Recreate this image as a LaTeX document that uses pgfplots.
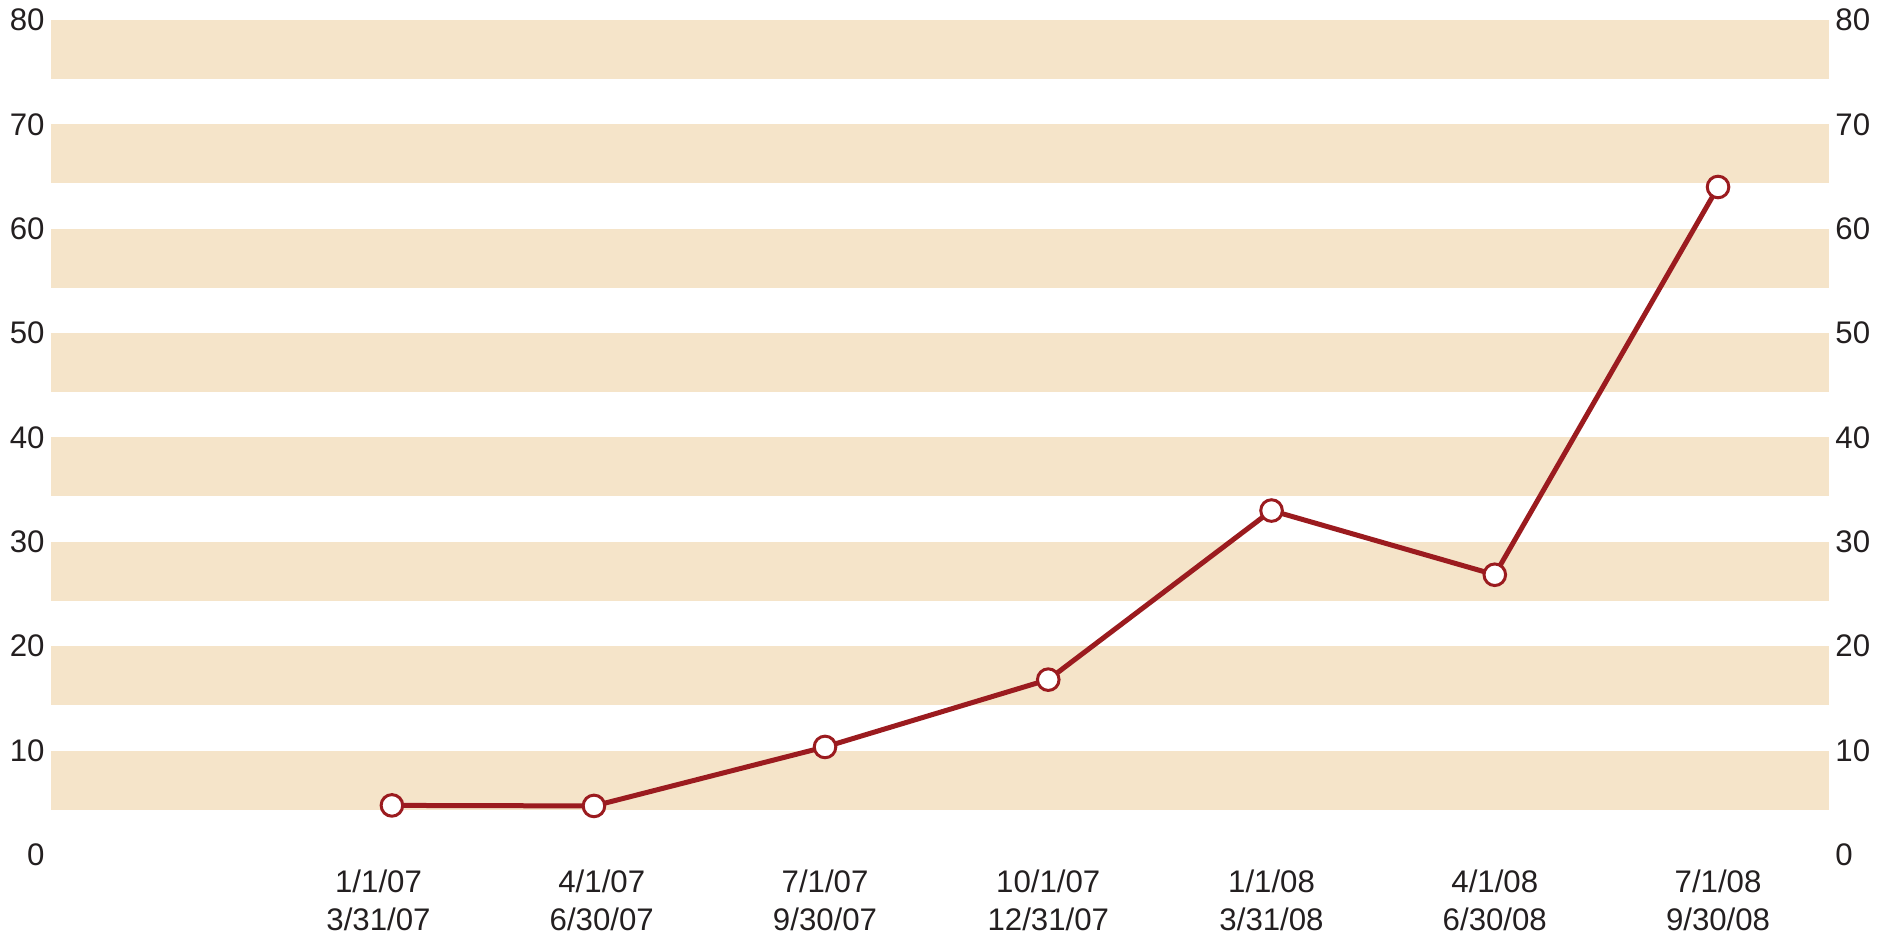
\documentclass[border=0pt]{standalone}
\usepackage{pgfplots}
\pgfplotsset{compat=1.18}
\usetikzlibrary{calc}
\usepackage{fontspec}
\setmainfont{Liberation Sans}
\definecolor{band}{RGB}{245,228,201}
\definecolor{linered}{RGB}{155,27,31}
\definecolor{txt}{RGB}{35,31,32}
\begin{document}
\begin{tikzpicture}
\pgfplotsset{common/.style={
  width=889pt, height=417.5pt, scale only axis,
  xmin=-1.467, xmax=6.497, ymin=0, ymax=80,
  axis line style={draw=none}, major tick length=0pt,
  ytick={0,10,...,80},
  tick label style={font=\fontsize{15.6}{19}\selectfont, text=txt},
  /pgf/number format/assume math mode=true,
  clip=false,
}}
\begin{axis}[common, name=ax,
  xtick={0,...,6},
  xticklabels={{1/1/07\\3/31/07},{4/1/07\\6/30/07},{7/1/07\\9/30/07},{10/1/07\\12/31/07},{1/1/08\\3/31/08},{4/1/08\\6/30/08},{7/1/08\\9/30/08}},
  xticklabel style={align=center, inner sep=0pt, anchor=north, yshift=-7.5pt},
  yticklabel style={inner sep=0pt, anchor=east, xshift=-3pt},
]
\pgfplotsinvokeforeach{10,20,30,40,50,60,70,80}{\fill[band] (axis cs:-1.467,#1-5.65) rectangle (axis cs:6.497,#1);}
\addplot[linered, line width=2.5pt, mark=*, mark size=5.4pt,
  mark options={fill=white, draw=linered, line width=1.5pt}]
  coordinates {(0.06,4.75) (0.965,4.7) (2,10.35) (3,16.8) (4,33.0) (5,26.85) (6,64.0)};
\end{axis}
\begin{axis}[common,
  xtick=\empty,
  yticklabel pos=right,
  yticklabel style={inner sep=0pt, anchor=west, xshift=3pt},
]
\end{axis}
\pgfresetboundingbox
\path ($(ax.south west)+(-25.5pt,-42.5pt)$) rectangle ($(ax.south west)+(920.5pt,427.5pt)$);
\end{tikzpicture}
\end{document}
